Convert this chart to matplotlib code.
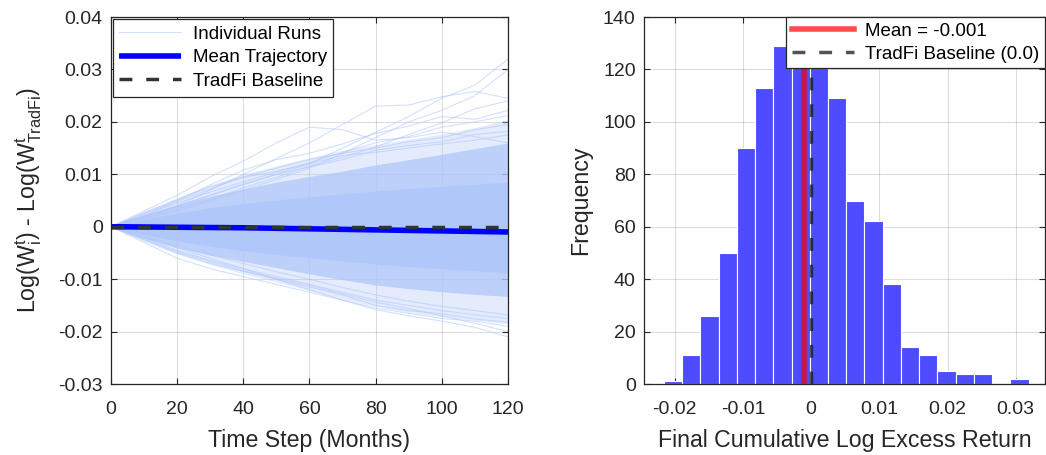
import numpy as np
import matplotlib.pyplot as plt

# ---- left panel: simulated log excess wealth paths ----
steps = [0, 10, 20, 30, 40, 50, 60, 70, 80, 90, 100, 110, 120]

mean_path = [0, -0.00005, -0.0001, -0.00015, -0.0002, -0.0003, -0.0004,
             -0.0005, -0.0006, -0.0007, -0.0008, -0.0009, -0.001]
baseline = [0] * len(steps)

# solid middle of the fan (runs overlap completely)
solid_upper = [0, 0.0014, 0.0026, 0.0036, 0.0044, 0.0051, 0.0057,
               0.0063, 0.0068, 0.0073, 0.0077, 0.0081, 0.0085]
solid_lower = [0, -0.0015, -0.0027, -0.0037, -0.0046, -0.0053, -0.0059,
               -0.0065, -0.0071, -0.0076, -0.0080, -0.0084, -0.0088]
# dense part
dense_upper = [0, 0.0022, 0.0042, 0.0058, 0.0072, 0.0085, 0.0096,
               0.0106, 0.0118, 0.0128, 0.0138, 0.0149, 0.0160]
dense_lower = [0, -0.0022, -0.0040, -0.0054, -0.0066, -0.0078, -0.0090,
               -0.0101, -0.0111, -0.0118, -0.0124, -0.0129, -0.0133]
# sparser outer spread
outer_upper = [0, 0.0030, 0.0055, 0.0080, 0.0100, 0.0116, 0.0132,
               0.0146, 0.0157, 0.0167, 0.0177, 0.0189, 0.0205]
outer_lower = [0, -0.0028, -0.0052, -0.0072, -0.0090, -0.0105, -0.0122,
               -0.0138, -0.0152, -0.0163, -0.0172, -0.0178, -0.0185]

# stray runs that stand out from the fan
stray_runs = [
    [0, 0.0020, 0.0040, 0.0060, 0.0080, 0.0100, 0.0120, 0.0150, 0.0180, 0.0210, 0.0245, 0.0270, 0.0320],
    [0, 0.0030, 0.0060, 0.0095, 0.0125, 0.0160, 0.0190, 0.0185, 0.0165, 0.0170, 0.0180, 0.0172, 0.0160],
    [0, 0.0020, 0.0040, 0.0070, 0.0100, 0.0130, 0.0160, 0.0195, 0.0230, 0.0232, 0.0248, 0.0258, 0.0245],
    [0, 0.0015, 0.0030, 0.0050, 0.0070, 0.0090, 0.0112, 0.0140, 0.0170, 0.0200, 0.0222, 0.0250, 0.0300],
    [0, 0.0020, 0.0050, 0.0080, 0.0108, 0.0128, 0.0140, 0.0158, 0.0178, 0.0192, 0.0210, 0.0205, 0.0222],
    [0, 0.0025, 0.0048, 0.0072, 0.0095, 0.0112, 0.0128, 0.0140, 0.0150, 0.0162, 0.0170, 0.0185, 0.0195],
    [0, 0.0022, 0.0045, 0.0066, 0.0086, 0.0104, 0.0122, 0.0142, 0.0160, 0.0172, 0.0190, 0.0200, 0.0212],
    [0, 0.0018, 0.0038, 0.0060, 0.0082, 0.0100, 0.0114, 0.0128, 0.0146, 0.0155, 0.0162, 0.0176, 0.0182],
    [0, 0.0026, 0.0052, 0.0076, 0.0094, 0.0106, 0.0120, 0.0136, 0.0142, 0.0150, 0.0158, 0.0165, 0.0175],
    [0, 0.0016, 0.0034, 0.0052, 0.0074, 0.0094, 0.0116, 0.0132, 0.0152, 0.0176, 0.0198, 0.0225, 0.0240],
    [0, -0.0020, -0.0040, -0.0060, -0.0080, -0.0100, -0.0120, -0.0140, -0.0158, -0.0170, -0.0180, -0.0192, -0.0210],
    [0, -0.0030, -0.0060, -0.0080, -0.0095, -0.0110, -0.0125, -0.0140, -0.0155, -0.0165, -0.0175, -0.0180, -0.0190],
    [0, -0.0025, -0.0050, -0.0070, -0.0085, -0.0100, -0.0115, -0.0130, -0.0150, -0.0160, -0.0166, -0.0176, -0.0182],
    [0, -0.0022, -0.0045, -0.0064, -0.0080, -0.0095, -0.0110, -0.0125, -0.0140, -0.0150, -0.0160, -0.0168, -0.0175],
    [0, -0.0024, -0.0048, -0.0066, -0.0084, -0.0098, -0.0112, -0.0128, -0.0144, -0.0156, -0.0170, -0.0184, -0.0200],
    [0, -0.0018, -0.0036, -0.0054, -0.0070, -0.0086, -0.0100, -0.0116, -0.0130, -0.0142, -0.0152, -0.0160, -0.0168],
]

# ---- right panel: histogram of final cumulative log excess return ----
bin_start = -0.0216
bin_width = 0.002675
counts = [1, 11, 26, 50, 90, 113, 129, 128, 133, 109,
          70, 62, 38, 14, 11, 5, 4, 4, 0, 2]
mean_value = -0.001

plt.rcParams['font.family'] = ['Liberation Sans', 'DejaVu Sans']
plt.rcParams['mathtext.fontset'] = 'custom'
plt.rcParams['mathtext.rm'] = 'Liberation Sans'
plt.rcParams['mathtext.it'] = 'Liberation Sans'
plt.rcParams['mathtext.default'] = 'regular'

axis_col = (0.15, 0.15, 0.15)
run_col = (0.69, 0.78, 0.98)
dash_pat = (0, (3.7, 4.0))

fig = plt.figure(figsize=(10.46, 4.55), dpi=100)
ax1 = fig.add_axes([0.1061, 0.156, 0.3795, 0.8066])
ax2 = fig.add_axes([0.6157, 0.156, 0.3834, 0.8066])


def style_axes(ax):
    ax.grid(True, color=axis_col, alpha=0.15, linewidth=0.8)
    ax.set_axisbelow(True)
    ax.tick_params(direction='in', length=4, width=0.8, colors=axis_col,
                   labelsize=14, top=True, right=True, pad=6)
    ax.tick_params(axis='x', pad=12)
    for s in ax.spines.values():
        s.set_color(axis_col)
        s.set_linewidth(0.9)


ax1.fill_between(steps, outer_lower, outer_upper, color=run_col, alpha=0.35,
                 linewidth=0)
ax1.fill_between(steps, dense_lower, dense_upper, color=run_col, alpha=0.75,
                 linewidth=0)
ax1.fill_between(steps, solid_lower, solid_upper, color=run_col, alpha=1.0,
                 linewidth=0)
for run in stray_runs:
    ax1.plot(steps, run, color=run_col, alpha=0.55, linewidth=0.8)
ax1.plot([], [], color=run_col, alpha=0.55, linewidth=0.8, label='Individual Runs')
ax1.plot(steps, mean_path, color='blue', linewidth=4, label='Mean Trajectory',
         solid_capstyle='butt')
ax1.plot(steps, baseline, color=(0.2, 0.2, 0.2), linewidth=2.5,
         linestyle=dash_pat, label='TradFi Baseline')

ax1.set_xlim(0, 120)
ax1.set_ylim(-0.03, 0.04)
ax1.set_xticks([0, 20, 40, 60, 80, 100, 120])
ax1.set_yticks([-0.03, -0.02, -0.01, 0, 0.01, 0.02, 0.03, 0.04])
ax1.set_yticklabels(['-0.03', '-0.02', '-0.01', '0', '0.01', '0.02', '0.03', '0.04'])
ax1.set_xlabel('Time Step (Months)', fontsize=16.7, color=axis_col, labelpad=8)
ax1.set_ylabel(r'Log(W$_i^t$) - Log(W$^t_{TradFi}$)', fontsize=16.7,
               color=axis_col, labelpad=10)
style_axes(ax1)
leg1 = ax1.legend(loc='upper left', fontsize=13.5, frameon=True, fancybox=False,
                  handlelength=3.3, borderaxespad=0.1, borderpad=0.35,
                  labelspacing=0.35, handletextpad=0.6)
leg1.get_frame().set_edgecolor(axis_col)
leg1.get_frame().set_linewidth(0.9)
leg1.get_frame().set_alpha(1)

edges = bin_start + bin_width * np.arange(len(counts))
ax2.bar(edges, counts, width=bin_width, align='edge', color=(0.3, 0.3, 1.0),
        edgecolor='white', linewidth=0.8, zorder=2)
ax2.axvline(mean_value, color=(1.0, 0.0, 0.0), alpha=0.7, linewidth=4,
            label=f'Mean = {mean_value:.3f}', zorder=3)
ax2.axvline(0, color=(0.1, 0.1, 0.1), alpha=0.75, linewidth=2.5,
            linestyle=dash_pat, label='TradFi Baseline (0.0)', zorder=4)
ax2.set_xlim(-0.0245, 0.0343)
ax2.set_ylim(0, 140)
ax2.set_xticks([-0.02, -0.01, 0, 0.01, 0.02, 0.03])
ax2.set_xticklabels(['-0.02', '-0.01', '0', '0.01', '0.02', '0.03'])
ax2.set_yticks(range(0, 141, 20))
ax2.set_xlabel('Final Cumulative Log Excess Return', fontsize=16.7,
               color=axis_col, labelpad=8)
ax2.set_ylabel('Frequency', fontsize=16.7, color=axis_col, labelpad=8)
style_axes(ax2)
leg2 = ax2.legend(loc='upper right', fontsize=13.5, frameon=True, fancybox=False,
                  handlelength=3.3, borderaxespad=0.0, borderpad=0.3,
                  labelspacing=0.3, handletextpad=0.6)
leg2.set_zorder(10)
leg2.get_frame().set_edgecolor(axis_col)
leg2.get_frame().set_linewidth(0.9)
leg2.get_frame().set_alpha(1)

fig.savefig('out.png', dpi=100)
